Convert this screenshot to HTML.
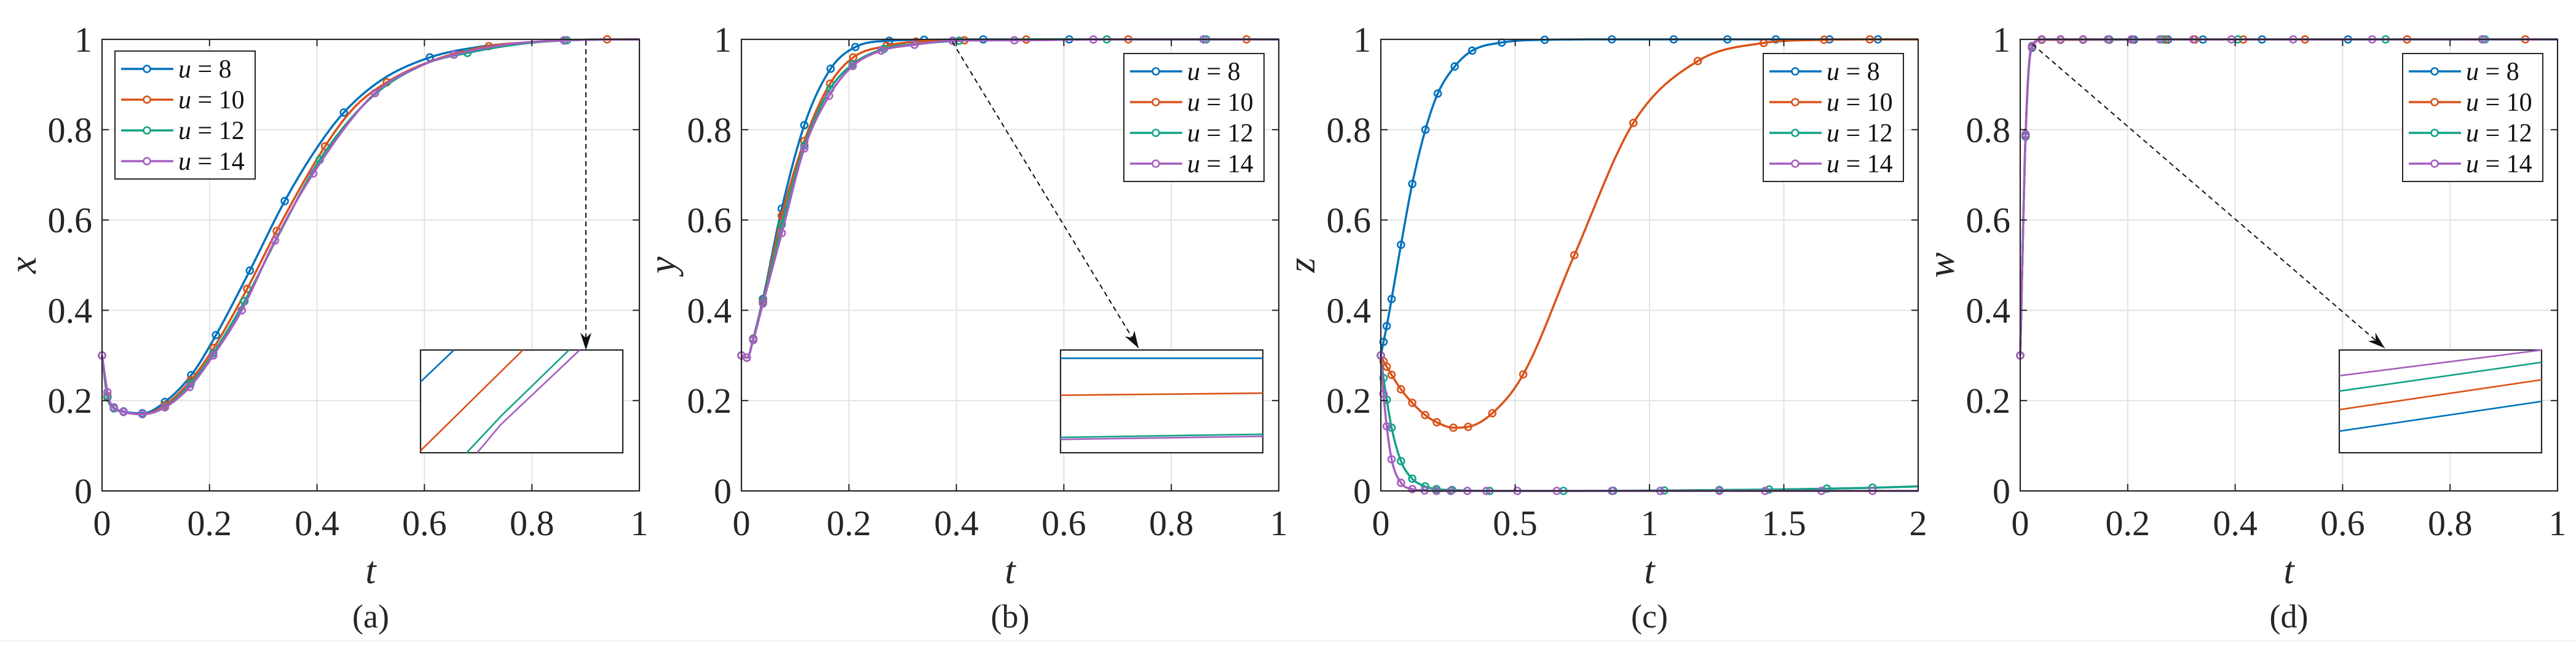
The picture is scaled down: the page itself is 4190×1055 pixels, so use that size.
<!DOCTYPE html>
<html><head><meta charset="utf-8"><style>
html,body{margin:0;padding:0;background:#fff;}
svg{display:block;font-family:"Liberation Serif",serif;}
</style></head><body>
<svg id="fig" width="4190" height="1055" viewBox="0 0 4190 1055" xmlns="http://www.w3.org/2000/svg"></svg>
<script>
// ---- data ----
const seriesNames = ["u = 8","u = 10","u = 12","u = 14"];
const seriesLabelsNum = ["8","10","12","14"];
const colors = ["#0072BD","#D95319","#12A386","#A65FC0"];

// marker times per series (shared across panels)
const markT8  = [0,0.01,0.022,0.04,0.075,0.117,0.166,0.212,0.275,0.34,0.45,0.61,0.86,1.09,1.29,1.47,1.67,1.85];
const markT10 = [0,0.01,0.022,0.04,0.075,0.117,0.165,0.208,0.27,0.325,0.415,0.53,0.72,0.94,1.18,1.425,1.65,1.82];
const markT12 = [0,0.01,0.022,0.04,0.075,0.117,0.165,0.207,0.265,0.405,0.68,0.865,1.055,1.26,1.445,1.66,1.83];
const markT14 = [0,0.01,0.022,0.04,0.075,0.117,0.163,0.207,0.26,0.322,0.393,0.508,0.655,0.86,1.04,1.26,1.43,1.64,1.83];

// panel (a): x
const aT8  = [0,0.01,0.02,0.04,0.076,0.117,0.167,0.211,0.275,0.34,0.4,0.45,0.52,0.61,0.7,0.8,0.9,1];
const aV8  = [0.3,0.21,0.187,0.176,0.172,0.197,0.258,0.343,0.488,0.642,0.76,0.838,0.91,0.96,0.983,0.994,0.999,1];
const aT10 = [0,0.01,0.02,0.04,0.076,0.117,0.165,0.207,0.268,0.326,0.416,0.47,0.53,0.62,0.72,0.82,0.94,1];
const aV10 = [0.3,0.21,0.186,0.175,0.17,0.19,0.245,0.315,0.443,0.578,0.765,0.85,0.905,0.955,0.985,0.995,1,1];
const aT12 = [0,0.01,0.02,0.04,0.076,0.117,0.163,0.207,0.265,0.33,0.405,0.5,0.6,0.68,0.78,0.865,1];
const aV12 = [0.3,0.207,0.185,0.175,0.17,0.186,0.235,0.305,0.42,0.57,0.733,0.87,0.945,0.97,0.99,0.998,1];
const aT14 = [0,0.012,0.022,0.04,0.076,0.117,0.163,0.207,0.26,0.32,0.393,0.507,0.6,0.655,0.75,0.86,1];
const aV14 = [0.3,0.207,0.185,0.175,0.17,0.185,0.23,0.3,0.4,0.55,0.703,0.88,0.945,0.966,0.988,0.998,1];

// panel (b): y
const bT8  = [0,0.011,0.021,0.04,0.074,0.117,0.166,0.212,0.276,0.34,0.45,0.6,1];
const bV8  = [0.3,0.295,0.333,0.425,0.62,0.81,0.935,0.983,0.997,0.999,1,1,1];
const bT10 = [0,0.011,0.021,0.04,0.073,0.117,0.164,0.208,0.267,0.325,0.415,0.6,1];
const bV10 = [0.3,0.295,0.332,0.42,0.6,0.775,0.9,0.96,0.985,0.995,0.998,1,1];
const bT12 = [0,0.011,0.021,0.04,0.075,0.117,0.165,0.207,0.268,0.33,0.405,0.6,1];
const bV12 = [0.3,0.295,0.331,0.418,0.59,0.765,0.89,0.945,0.98,0.99,0.997,1,1];
const bT14 = [0,0.011,0.021,0.04,0.077,0.116,0.163,0.206,0.26,0.322,0.393,0.51,0.7,1];
const bV14 = [0.3,0.295,0.33,0.415,0.58,0.755,0.875,0.94,0.975,0.988,0.997,0.998,1,1];

// panel (c): z
const cT8  = [0,0.01,0.022,0.04,0.075,0.117,0.166,0.212,0.275,0.34,0.45,0.61,0.86,1.09,1.29,1.47,1.67,1.85,2];
const cV8  = [0.3,0.33,0.365,0.425,0.545,0.68,0.8,0.88,0.94,0.975,0.993,0.999,1,1,1,1,1,1,1];
const cT10 = [0,0.01,0.022,0.04,0.075,0.117,0.165,0.208,0.27,0.325,0.415,0.53,0.72,0.94,1.18,1.425,1.65,1.82,2];
const cV10 = [0.3,0.287,0.275,0.257,0.225,0.195,0.168,0.152,0.14,0.142,0.172,0.258,0.522,0.815,0.952,0.992,0.999,1,1];
const cT12 = [0,0.01,0.022,0.04,0.075,0.117,0.165,0.207,0.267,0.405,0.68,1.055,1.26,1.445,1.66,1.83,2];
const cV12 = [0.3,0.25,0.202,0.14,0.066,0.027,0.01,0.004,0.002,0,0,0.001,0.002,0.003,0.005,0.007,0.01];
const cT14 = [0,0.01,0.022,0.04,0.075,0.117,0.163,0.207,0.26,0.4,0.8,1.2,1.6,2];
const cV14 = [0.3,0.215,0.143,0.07,0.018,0.004,0.001,0,0,0,0,0,0,0];

// panel (d): w
const dT8  = [0,0.01,0.02,0.04,1];
const dV8  = [0.3,0.785,0.975,0.999,1];
const dT10 = [0,0.01,0.02,0.04,1];
const dV10 = [0.3,0.787,0.977,0.999,1];
const dT12 = [0,0.01,0.02,0.04,1];
const dV12 = [0.3,0.788,0.978,1,1];
const dT14 = [0,0.01,0.02,0.04,1];
const dV14 = [0.3,0.79,0.98,1,1];

const xTicksA = [0,0.2,0.4,0.6,0.8,1];
const xTickLabelsA = ["0","0.2","0.4","0.6","0.8","1"];
const xTicksC = [0,0.5,1,1.5,2];
const xTickLabelsC = ["0","0.5","1","1.5","2"];
const yTicks = [0,0.2,0.4,0.6,0.8,1];
const yTickLabels = ["0","0.2","0.4","0.6","0.8","1"];

// ---- drawing ----
const NS = "http://www.w3.org/2000/svg";
const svg = document.getElementById("fig");
function mk(tag, attrs, parent){
  const e = document.createElementNS(NS, tag);
  for (const k in attrs) e.setAttribute(k, attrs[k]);
  (parent||svg).appendChild(e);
  return e;
}
function monotone(ts, vs){
  const n = ts.length, d = [], m = new Array(n).fill(0);
  for (let i=0;i<n-1;i++) d.push((vs[i+1]-vs[i])/(ts[i+1]-ts[i]));
  m[0]=d[0]; m[n-1]=d[n-2];
  for (let i=1;i<n-1;i++){ m[i] = (d[i-1]*d[i]<=0)?0:(d[i-1]+d[i])/2; }
  for (let i=0;i<n-1;i++){
    if (d[i]===0){ m[i]=0; m[i+1]=0; continue; }
    const a=m[i]/d[i], b=m[i+1]/d[i], s=a*a+b*b;
    if (s>9){ const tt=3/Math.sqrt(s); m[i]=tt*a*d[i]; m[i+1]=tt*b*d[i]; }
  }
  return function(t){
    let i=0; while(i<n-2 && t>ts[i+1]) i++;
    const h=ts[i+1]-ts[i], u=(t-ts[i])/h;
    const h00=2*u*u*u-3*u*u+1,h10=u*u*u-2*u*u+u,h01=-2*u*u*u+3*u*u,h11=u*u*u-u*u;
    return h00*vs[i]+h10*h*m[i]+h01*vs[i+1]+h11*h*m[i+1];
  };
}

const panels = [
  {id:"a", lbl:"x", left:166, xmax:1, xt:xTicksA, xl:xTickLabelsA, T:[aT8,aT10,aT12,aT14], V:[aV8,aV10,aV12,aV14], leg:"left"},
  {id:"b", lbl:"y", left:1206, xmax:1, xt:xTicksA, xl:xTickLabelsA, T:[bT8,bT10,bT12,bT14], V:[bV8,bV10,bV12,bV14], leg:"right"},
  {id:"c", lbl:"z", left:2246, xmax:2, xt:xTicksC, xl:xTickLabelsC, T:[cT8,cT10,cT12,cT14], V:[cV8,cV10,cV12,cV14], leg:"right"},
  {id:"d", lbl:"w", left:3286, xmax:1, xt:xTicksA, xl:xTickLabelsA, T:[dT8,dT10,dT12,dT14], V:[dV8,dV10,dV12,dV14], leg:"right"}
];
const markTs = [markT8,markT10,markT12,markT14];
const TOP=64, BOT=798, W=874, H=BOT-TOP;

mk("line",{x1:0,y1:1042,x2:4190,y2:1042,stroke:"#f0f0f0","stroke-width":2});

panels.forEach(function(p){
  const g = mk("g",{});
  
  
  const X = t => p.left + t/p.xmax*W;
  const Y = v => BOT - v*H;
  // grid
  const grid = mk("g",{},g);
  
  
  p.xt.forEach(t=>{ mk("line",{x1:X(t),y1:TOP,x2:X(t),y2:BOT,stroke:"#e3e3e3","stroke-width":2},grid); });
  yTicks.forEach(v=>{ mk("line",{x1:p.left,y1:Y(v),x2:p.left+W,y2:Y(v),stroke:"#e3e3e3","stroke-width":2},grid); });
  // series
  const xmaxData = p.xmax;
  for (let s=0;s<4;s++){
    const f = monotone(p.T[s], p.V[s]);
    let d="";
    const N=600;
    for (let k=0;k<=N;k++){
      const t = p.T[s][0] + (p.T[s][p.T[s].length-1]-p.T[s][0])*Math.pow(k/N, 1.6);
      d += (k?"L":"M")+X(t).toFixed(1)+","+Y(f(t)).toFixed(1);
    }
    const path = mk("path",{d:d,fill:"none",stroke:colors[s],"stroke-width":3.5,"stroke-linejoin":"round"},g);
    
    
    markTs[s].forEach(function(t){
      if (t>xmaxData) return;
      const c = mk("circle",{cx:X(t),cy:Y(f(t)),r:5.5,fill:"none",stroke:colors[s],"stroke-width":2.6},g);
      
      
    });
  }
  // axes box
  const box = mk("rect",{x:p.left,y:TOP,width:W,height:H,fill:"none",stroke:"#262626","stroke-width":2.2},g);
  
  
  p.xt.forEach((t,i)=>{
    mk("line",{x1:X(t),y1:BOT,x2:X(t),y2:BOT-11,stroke:"#262626","stroke-width":2},g);
    mk("line",{x1:X(t),y1:TOP,x2:X(t),y2:TOP+11,stroke:"#262626","stroke-width":2},g);
    const tx = mk("text",{x:X(t),y:870,"font-size":58,"text-anchor":"middle",fill:"#262626"},g);
    tx.textContent = p.xl[i];
    
    
  });
  yTicks.forEach((v,i)=>{
    mk("line",{x1:p.left,y1:Y(v),x2:p.left+11,y2:Y(v),stroke:"#262626","stroke-width":2},g);
    mk("line",{x1:p.left+W,y1:Y(v),x2:p.left+W-11,y2:Y(v),stroke:"#262626","stroke-width":2},g);
    const ty = mk("text",{x:p.left-16,y:Y(v)+20,"font-size":58,"text-anchor":"end",fill:"#262626"},g);
    ty.textContent = yTickLabels[i];
    
    
  });
  // axis labels
  const xl = mk("text",{x:p.left+W/2,y:948,"font-size":62,"font-style":"italic","text-anchor":"middle",fill:"#262626"},g);
  xl.textContent = "t";
  
  
  const yl = mk("text",{x:0,y:0,"font-size":62,"font-style":"italic","text-anchor":"middle",fill:"#262626",transform:"translate("+(p.left-108)+",431) rotate(-90)"},g);
  yl.textContent = p.lbl;
  
  
  const cap = mk("text",{x:p.left+W/2,y:1020,"font-size":54,"text-anchor":"middle",fill:"#262626"},g);
  cap.textContent = "("+p.id+")";
  
  
  // legend
  const lx = p.leg==="left" ? p.left+21 : p.left+622;
  const ly = p.leg==="left" ? 83 : 87;
  const lg = mk("g",{},g);
  
  
  mk("rect",{x:lx,y:ly,width:228,height:208,fill:"#fff",stroke:"#262626","stroke-width":2},lg);
  for (let s=0;s<4;s++){
    const ey = ly+29+s*50;
    const e = mk("g",{},lg);
    
    
    mk("line",{x1:lx+10,y1:ey,x2:lx+95,y2:ey,stroke:colors[s],"stroke-width":3.5},e);
    mk("circle",{cx:lx+52,cy:ey,r:5.5,fill:"#fff",stroke:colors[s],"stroke-width":2.6},e);
    const t = mk("text",{x:lx+103,y:ey+14,"font-size":42,fill:"#111"},e);
    const u = mk("tspan",{"font-style":"italic"},t); u.textContent="u";
    const r = mk("tspan",{},t); r.textContent=" = "+seriesLabelsNum[s];
  }
});

// insets & arrows
function inset(name, x, y, w, h, lines){
  const g = mk("g",{});
  
  
  mk("rect",{x:x,y:y,width:w,height:h,fill:"#fff",stroke:"#262626","stroke-width":2.2},g);
  lines.forEach((pts,i)=>{
    mk("polyline",{points:pts.map(q=>(x+q[0]*w).toFixed(1)+","+(y+q[1]*h).toFixed(1)).join(" "),fill:"none",stroke:colors[i],"stroke-width":2.6},g);
  });
}
function arrow(name, x1,y1,x2,y2){
  const g = mk("g",{});
  
  
  mk("line",{x1:x1,y1:y1,x2:x2,y2:y2,stroke:"#111","stroke-width":2,"stroke-dasharray":"8,6"},g);
  const a=Math.atan2(y2-y1,x2-x1), L=28, Wd=9;
  const bx=x2-L*Math.cos(a), by=y2-L*Math.sin(a);
  const mx=x2-L*0.7*Math.cos(a), my=y2-L*0.7*Math.sin(a);
  const px=-Math.sin(a)*Wd, py=Math.cos(a)*Wd;
  mk("polygon",{points:[x2+","+y2,(bx+px)+","+(by+py),mx+","+my,(bx-px)+","+(by-py)].join(" "),fill:"#111"},g);
}
inset("inset-a",684,569,329,167,[
  [[0,0.31],[0.165,0]],
  [[0,0.98],[0.506,0]],
  [[0.228,1],[0.397,0.645],[0.734,0]],
  [[0.28,1],[0.397,0.726],[0.787,0]]
]);
inset("inset-b",1725,569,329,167,[
  [[0,0.08],[1,0.08]],
  [[0,0.44],[1,0.42]],
  [[0,0.85],[1,0.82]],
  [[0,0.87],[1,0.84]]
]);
inset("inset-d",3805,569,329,167,[
  [[0,0.79],[1,0.5]],
  [[0,0.58],[1,0.29]],
  [[0,0.4],[1,0.12]],
  [[0,0.25],[1,0]]
]);
arrow("zoom-arrow-a",953,66,953,569);
arrow("zoom-arrow-b",1549,68,1852,566);
arrow("zoom-arrow-d",3306,72,3879,566);
</script>
</body></html>
